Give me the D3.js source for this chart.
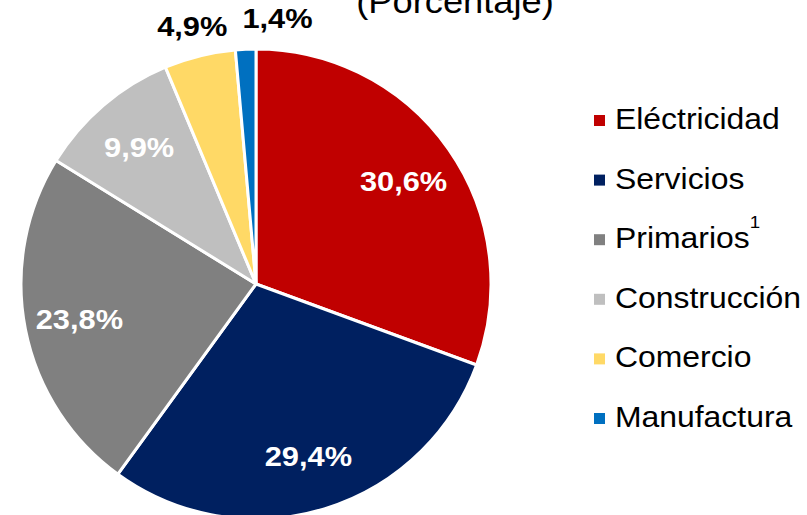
<!DOCTYPE html>
<html>
<head>
<meta charset="utf-8">
<script src="https://cdn.jsdelivr.net/npm/d3@7/dist/d3.min.js"></script>
<style>
  html, body { margin: 0; padding: 0; background: #fff; }
  svg { display: block; font-family: "Liberation Sans", Arial, sans-serif; }
</style>
</head>
<body>
<svg id="chart" width="807" height="515"></svg>
<script>
const categories = ["Eléctricidad", "Servicios", "Primarios", "Construcción", "Comercio", "Manufactura"];
const values = [30.6, 29.4, 23.8, 9.9, 4.9, 1.4];
const labels = ["30,6%", "29,4%", "23,8%", "9,9%", "4,9%", "1,4%"];
const colors = ["#C00000", "#002060", "#808080", "#BFBFBF", "#FFD966", "#0070C0"];
const superscripts = ["", "", "1", "", "", ""];
const titleText = "(Porcentaje)";

const W = 807, H = 515;
const cx = 256, cy = 284, R = 235;
const SX = 1.1; // horizontal text stretch

const svg = d3.select("#chart");

// Title (partially cut at top, as in the reference)
svg.append("text")
  .attr("transform", `translate(455,13) scale(${SX},1)`)
  .attr("text-anchor", "middle")
  .attr("font-size", 33)
  .attr("fill", "#000")
  .text(titleText);

const data = categories.map((c, i) => ({ cat: c, value: values[i], label: labels[i], color: colors[i] }));

const pie = d3.pie().value(d => d.value).sort(null);
const arcs = pie(data);
const arc = d3.arc().innerRadius(0).outerRadius(R);
const inArc = d3.arc().innerRadius(180).outerRadius(180);
const outArc = d3.arc().innerRadius(266).outerRadius(266);

const g = svg.append("g").attr("transform", `translate(${cx},${cy})`);

g.selectAll("path.slice")
  .data(arcs)
  .join("path")
  .attr("class", "slice")
  .attr("d", arc)
  .attr("fill", d => d.data.color)
  .attr("stroke", "#fff")
  .attr("stroke-width", 3)
  .attr("stroke-linejoin", "round");

// Labels: inside if slice is big enough, else outside
const fs = 28;
const charW = { "0": .556, "1": .556, "2": .556, "3": .556, "4": .556, "5": .556, "6": .556, "7": .556, "8": .556, "9": .556, ",": .278, "%": .889 };
const textWidth = s => s.split("").reduce((a, c) => a + (charW[c] || .556), 0) * fs * SX;

let lastRight = null;
arcs.forEach(d => {
  const inside = d.data.value >= 8;
  let [x, y] = inside ? inArc.centroid(d) : outArc.centroid(d);
  const w = textWidth(d.data.label);
  if (!inside) {
    if (lastRight !== null && x - w / 2 < lastRight + 15) {
      x = lastRight + 15 + w / 2;
    }
    lastRight = x + w / 2;
  }
  g.append("text")
    .attr("transform", `translate(${x},${y + fs * 0.36}) scale(${SX},1)`)
    .attr("text-anchor", "middle")
    .attr("font-size", fs)
    .attr("font-weight", "bold")
    .attr("fill", inside ? "#fff" : "#000")
    .text(d.data.label);
});

// Legend
const ly = d3.scalePoint().domain(categories).range([129, 427]);
const leg = svg.append("g");
categories.forEach((c, i) => {
  const y = ly(c);
  leg.append("rect")
    .attr("x", 594).attr("y", y - 14)
    .attr("width", 11).attr("height", 11)
    .attr("fill", colors[i]);
  const t = leg.append("text")
    .attr("transform", `translate(615,${y}) scale(${SX},1)`)
    .attr("font-size", 29)
    .attr("fill", "#000")
    .text(c);
  if (superscripts[i]) {
    t.append("tspan")
      .attr("font-size", 17)
      .attr("dy", -20)
      .text(superscripts[i]);
  }
});
</script>
</body>
</html>
